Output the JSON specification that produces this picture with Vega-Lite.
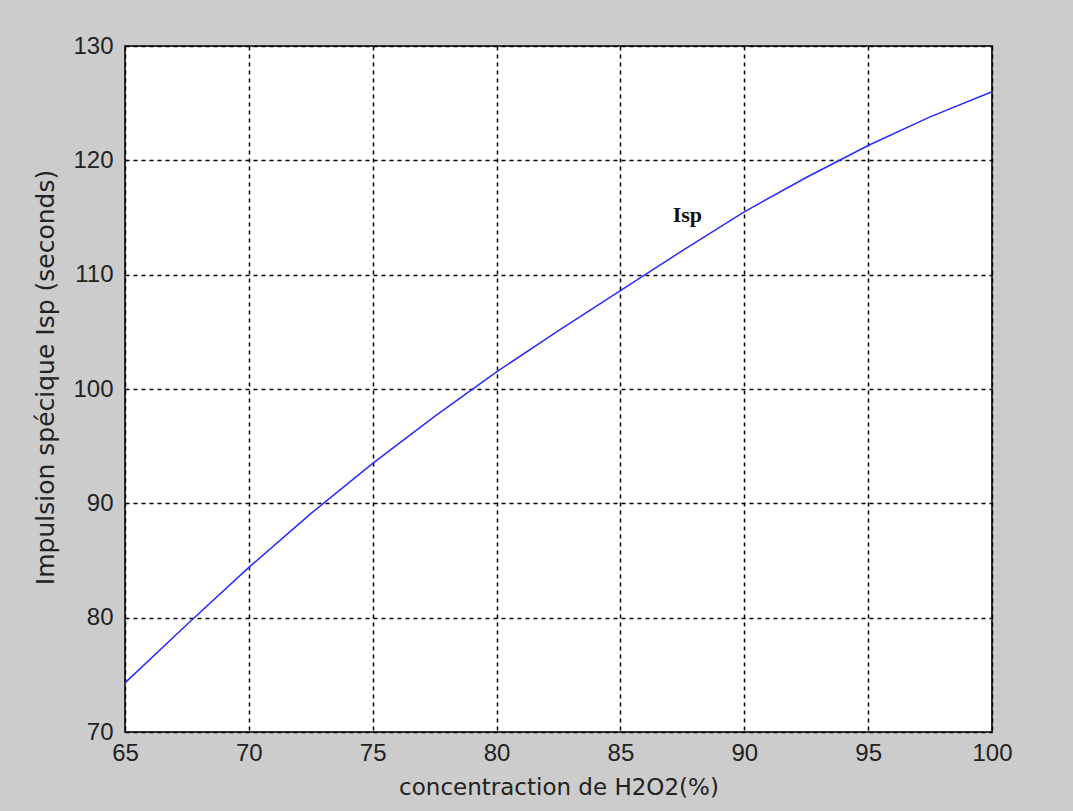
{
  "$schema": "https://vega.github.io/schema/vega-lite/v6.json",
  "width": 867,
  "height": 686,
  "autosize": {"type": "none"},
  "padding": {"left": 125, "top": 46, "right": 81, "bottom": 79},
  "background": "#cccccc",
  "config": {
    "view": {"fill": "white", "stroke": "#333333", "strokeWidth": 2},
    "font": "Liberation Sans"
  },
  "data": {
    "values": [
      {"h2o2": 65, "isp": 74.3},
      {"h2o2": 67.5, "isp": 79.4},
      {"h2o2": 70, "isp": 84.4},
      {"h2o2": 72.5, "isp": 89.1},
      {"h2o2": 75, "isp": 93.5},
      {"h2o2": 77.5, "isp": 97.6},
      {"h2o2": 80, "isp": 101.5},
      {"h2o2": 82.5, "isp": 105.1},
      {"h2o2": 85, "isp": 108.6},
      {"h2o2": 87.5, "isp": 112.1},
      {"h2o2": 90, "isp": 115.5},
      {"h2o2": 92.5, "isp": 118.5},
      {"h2o2": 95, "isp": 121.3},
      {"h2o2": 97.5, "isp": 123.8},
      {"h2o2": 100, "isp": 126.0}
    ]
  },
  "layer": [
    {
      "mark": {"type": "line", "color": "#2a2aff", "strokeWidth": 1.5},
      "encoding": {
        "x": {
          "field": "h2o2",
          "type": "quantitative",
          "scale": {"domain": [65, 100], "nice": false, "zero": false},
          "axis": {
            "values": [65, 70, 75, 80, 85, 90, 95, 100],
            "grid": true,
            "gridDash": [4, 4],
            "gridColor": "#000000",
            "gridWidth": 1.5,
            "gridOpacity": 1,
            "ticks": false,
            "domain": false,
            "labelFontSize": 24,
            "labelColor": "#222222",
            "labelPadding": 9,
            "labelFlush": false,
            "title": "concentraction de H2O2(%)",
            "titleFont": "DejaVu Sans",
            "titleFontSize": 23,
            "titleFontWeight": "normal",
            "titleColor": "#222222",
            "titlePadding": 11
          }
        },
        "y": {
          "field": "isp",
          "type": "quantitative",
          "scale": {"domain": [70, 130], "nice": false, "zero": false},
          "axis": {
            "values": [70, 80, 90, 100, 110, 120, 130],
            "grid": true,
            "gridDash": [4, 4],
            "gridColor": "#000000",
            "gridWidth": 1.5,
            "gridOpacity": 1,
            "ticks": false,
            "domain": false,
            "labelFontSize": 24,
            "labelColor": "#222222",
            "labelPadding": 12,
            "labelFlush": false,
            "title": "Impulsion spécique Isp (seconds)",
            "titleFont": "DejaVu Sans",
            "titleFontSize": 25,
            "titleFontWeight": "normal",
            "titleColor": "#222222",
            "titlePadding": 14,
            "titleY": 331
          }
        }
      }
    },
    {
      "data": {"values": [{"h2o2": 87.7, "isp": 115.2, "label": "Isp"}]},
      "mark": {
        "type": "text",
        "font": "Liberation Serif",
        "fontWeight": "bold",
        "fontSize": 22,
        "color": "#111111"
      },
      "encoding": {
        "x": {"field": "h2o2", "type": "quantitative"},
        "y": {"field": "isp", "type": "quantitative"},
        "text": {"field": "label"}
      }
    }
  ]
}
